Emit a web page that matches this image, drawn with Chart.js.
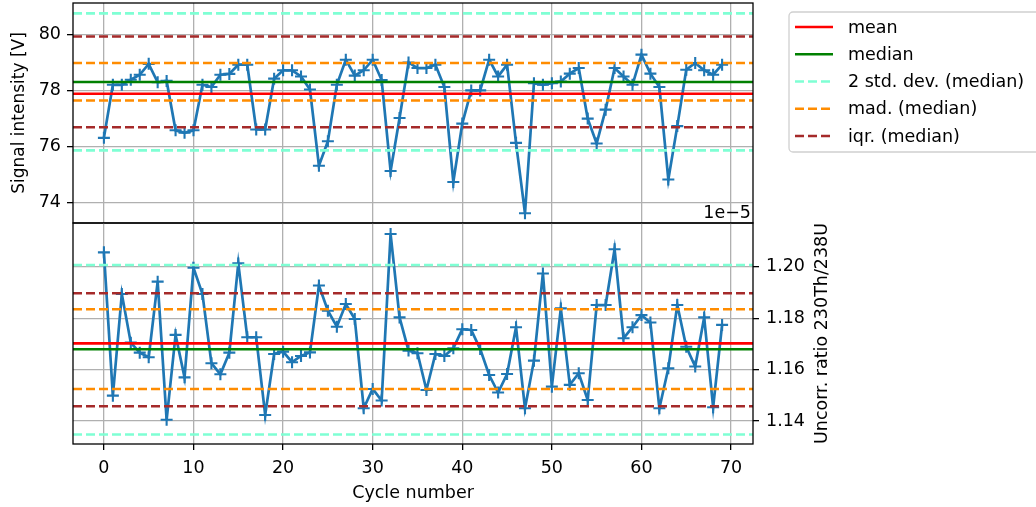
<!DOCTYPE html>
<html>
<head>
<meta charset="utf-8">
<script src="https://cdn.jsdelivr.net/npm/chart.js@4.4.1/dist/chart.umd.min.js"></script>
<style>
  html, body { margin: 0; padding: 0; background: #fff; }
  #wrap { position: relative; width: 1036px; height: 507px; overflow: hidden; }
  canvas { position: absolute; left: 0; }
  #signalChart { top: 0; }
  #ratioChart { top: 222px; }
</style>
</head>
<body>
<div id="wrap">
  <canvas id="signalChart" width="1036" height="224"></canvas>
  <canvas id="ratioChart" width="840" height="285"></canvas>
</div>
<script>
// ---- data ----
const cycles = [0,1,2,3,4,5,6,7,8,9,10,11,12,13,14,15,16,17,18,19,20,21,22,23,24,25,26,27,28,29,
  30,31,32,33,34,35,36,37,38,39,40,41,42,43,44,45,46,47,48,49,50,51,52,53,54,55,56,57,58,59,
  60,61,62,63,64,65,66,67,68,69];

const signal = [76.31,78.21,78.21,78.39,78.57,78.96,78.30,78.35,76.58,76.49,
  76.58,78.21,78.13,78.57,78.60,78.93,78.93,76.61,76.61,78.43,
  78.73,78.73,78.51,78.04,75.31,76.19,78.21,79.11,78.54,78.73,
  79.11,78.38,75.12,77.02,79.01,78.81,78.81,78.93,78.13,74.73,
  76.82,78.01,78.01,79.11,78.51,78.93,76.13,73.61,78.27,78.21,
  78.27,78.33,78.61,78.81,77.00,76.11,77.32,78.81,78.51,78.21,
  79.29,78.61,78.13,74.82,76.73,78.75,78.99,78.73,78.57,78.93];

const ratio = [1.2056,1.1499,1.1894,1.1705,1.1666,1.1648,1.1942,1.1405,1.1735,1.1570,
  1.1996,1.1894,1.1625,1.1582,1.1666,1.2013,1.1726,1.1726,1.1424,1.1661,
  1.1670,1.1629,1.1653,1.1667,1.1927,1.1829,1.1767,1.1855,1.1797,1.1450,
  1.1525,1.1480,1.2127,1.1803,1.1674,1.1664,1.1521,1.1661,1.1653,1.1683,
  1.1757,1.1754,1.1680,1.1579,1.1511,1.1583,1.1765,1.1450,1.1635,1.1974,
  1.1534,1.1838,1.1541,1.1586,1.1482,1.1851,1.1851,1.2068,1.1722,1.1765,
  1.1812,1.1783,1.1450,1.1605,1.1851,1.1689,1.1612,1.1803,1.1454,1.1774];

// summary levels: [low, high] bands around the median
const signalMean = 77.89;
const signalMedian = 78.31;
const signalStd2 = [75.86, 80.77];
const signalMad = [77.65, 78.99];
const signalIqr = [76.69, 79.94];

const ratioMean = 1.1702;
const ratioMedian = 1.1679;
const ratioStd2 = [1.1348, 1.2007];
const ratioMad = [1.1525, 1.1835];
const ratioIqr = [1.1458, 1.1897];

const cycleTicks = [0, 10, 20, 30, 40, 50, 60, 70];
const signalTicks = [74, 76, 78, 80];
const ratioTicks = [1.14, 1.16, 1.18, 1.20];

// ---- styling ----
const FONT = { family: 'DejaVu Sans', size: 17.5 };
const GRID = '#b0b0b0';
const BLUE = '#1f77b4';
const DASH = [9, 4];
const X_MIN = -3.45, X_MAX = 72.45;

Chart.defaults.font.family = FONT.family;
Chart.defaults.font.size = FONT.size;
Chart.defaults.color = '#000';

const fixTicks = values => scale => { scale.ticks = values.map(v => ({ value: v })); };
const noPad = scale => { scale.paddingTop = scale.paddingBottom = scale.paddingLeft = scale.paddingRight = 0; };

function seriesDataset(values) {
  return {
    data: cycles.map((c, i) => ({ x: c, y: values[i] })),
    borderColor: BLUE, backgroundColor: BLUE,
    borderWidth: 2.7, tension: 0,
    pointStyle: 'cross', pointRadius: 6, pointBorderWidth: 2.1,
    pointBorderColor: BLUE, order: 1
  };
}

function levelDatasets(mean, median, std2, mad, iqr) {
  const out = [];
  const add = (label, y, color, dash, inLegend) => out.push({
    label, inLegend,
    data: [{ x: X_MIN, y }, { x: X_MAX, y }],
    borderColor: color, borderWidth: 2.6, borderDash: dash,
    pointRadius: 0, order: 0
  });
  add('mean', mean, '#ff0000', [], true);
  add('median', median, '#008000', [], true);
  add('2 std. dev. (median)', std2[1], '#7fffd4', DASH, true);
  add('2 std. dev. (median)', std2[0], '#7fffd4', DASH, false);
  add('mad. (median)', mad[1], '#ff8c00', DASH, true);
  add('mad. (median)', mad[0], '#ff8c00', DASH, false);
  add('iqr. (median)', iqr[1], '#a52a2a', DASH, true);
  add('iqr. (median)', iqr[0], '#a52a2a', DASH, false);
  return out;
}

// black box around the plotting area
const framePlugin = {
  id: 'frame',
  afterDatasetsDraw(chart) {
    const { ctx, chartArea: a } = chart;
    ctx.save();
    ctx.strokeStyle = '#000';
    ctx.lineWidth = 1.3;
    ctx.strokeRect(a.left, a.top, a.right - a.left, a.bottom - a.top);
    ctx.restore();
  }
};

// legend box to the right of the upper panel
const legendPlugin = {
  id: 'sideLegend',
  afterDraw(chart) {
    const ctx = chart.ctx;
    const items = chart.data.datasets.filter(d => d.inLegend);
    const x0 = 789, y0 = 12, w = 270, h = 140, r = 4;
    ctx.save();
    ctx.beginPath();
    ctx.moveTo(x0 + r, y0);
    ctx.lineTo(x0 + w - r, y0);
    ctx.arcTo(x0 + w, y0, x0 + w, y0 + r, r);
    ctx.lineTo(x0 + w, y0 + h - r);
    ctx.arcTo(x0 + w, y0 + h, x0 + w - r, y0 + h, r);
    ctx.lineTo(x0 + r, y0 + h);
    ctx.arcTo(x0, y0 + h, x0, y0 + h - r, r);
    ctx.lineTo(x0, y0 + r);
    ctx.arcTo(x0, y0, x0 + r, y0, r);
    ctx.closePath();
    ctx.fillStyle = 'rgba(255,255,255,0.8)';
    ctx.fill();
    ctx.strokeStyle = '#d0d0d0';
    ctx.lineWidth = 1.3;
    ctx.stroke();

    ctx.font = `${FONT.size}px ${FONT.family}`;
    ctx.textBaseline = 'middle';
    ctx.textAlign = 'left';
    items.forEach((d, i) => {
      const y = 27 + i * 27.25;
      ctx.beginPath();
      ctx.setLineDash(d.borderDash || []);
      ctx.strokeStyle = d.borderColor;
      ctx.lineWidth = d.borderWidth;
      ctx.moveTo(795, y);
      ctx.lineTo(833, y);
      ctx.stroke();
      ctx.setLineDash([]);
      ctx.fillStyle = '#000';
      ctx.fillText(d.label, 848, y + 1);
    });

    // scale multiplier of the ratio axis
    ctx.textAlign = 'right';
    ctx.textBaseline = 'alphabetic';
    ctx.fillText('1e\u22125', 751, 218);
    ctx.restore();
  }
};

// right-hand axis title, reading bottom to top
const rightTitlePlugin = {
  id: 'rightTitle',
  afterDraw(chart) {
    const { ctx, chartArea: a } = chart;
    ctx.save();
    ctx.translate(822, (a.top + a.bottom) / 2);
    ctx.rotate(-Math.PI / 2);
    ctx.font = `${FONT.size}px ${FONT.family}`;
    ctx.fillStyle = '#000';
    ctx.textAlign = 'center';
    ctx.textBaseline = 'middle';
    ctx.fillText('Uncorr. ratio 230Th/238U', 0, 0);
    ctx.restore();
  }
};

const commonOpts = {
  responsive: false,
  animation: false,
  events: [],
  plugins: { legend: { display: false }, tooltip: { enabled: false } }
};

new Chart(document.getElementById('signalChart'), {
  type: 'line',
  data: { datasets: [seriesDataset(signal), ...levelDatasets(signalMean, signalMedian, signalStd2, signalMad, signalIqr)] },
  options: {
    ...commonOpts,
    layout: { autoPadding: false, padding: { left: 0, top: 3, right: 283, bottom: 1 } },
    scales: {
      x: {
        type: 'linear', min: X_MIN, max: X_MAX,
        afterBuildTicks: fixTicks(cycleTicks),
        ticks: { display: false },
        grid: { color: GRID, lineWidth: 1.3, drawTicks: false },
        border: { display: false },
        afterFit: s => { s.height = 0; noPad(s); }
      },
      y: {
        type: 'linear', position: 'left', min: 73.26, max: 81.14,
        afterBuildTicks: fixTicks(signalTicks),
        ticks: { padding: 6, font: FONT, callback: v => String(v) },
        grid: { color: GRID, lineWidth: 1.3, tickLength: 6, tickColor: '#000', tickWidth: 1.3 },
        border: { display: false },
        title: { display: true, text: 'Signal intensity [V]', font: { family: FONT.family, size: 17 }, padding: { top: 9, bottom: 0 } },
        afterFit: s => { s.width = 73; noPad(s); }
      }
    }
  },
  plugins: [framePlugin, legendPlugin]
});

new Chart(document.getElementById('ratioChart'), {
  type: 'line',
  data: { datasets: [seriesDataset(ratio), ...levelDatasets(ratioMean, ratioMedian, ratioStd2, ratioMad, ratioIqr)] },
  options: {
    ...commonOpts,
    layout: { autoPadding: false, padding: { left: 73, top: 1, right: 0, bottom: 0 } },
    scales: {
      x: {
        type: 'linear', min: X_MIN, max: X_MAX,
        afterBuildTicks: fixTicks(cycleTicks),
        ticks: { padding: 8, font: FONT, maxRotation: 0, callback: v => String(v) },
        grid: { color: GRID, lineWidth: 1.3, tickLength: 6, tickColor: '#000', tickWidth: 1.3 },
        border: { display: false },
        title: { display: true, text: 'Cycle number', font: FONT, padding: { top: 0, bottom: 3 } },
        afterFit: s => { s.height = 63; noPad(s); }
      },
      y: {
        type: 'linear', position: 'right', min: 1.1311, max: 1.2170,
        afterBuildTicks: fixTicks(ratioTicks),
        ticks: { padding: 7, font: FONT, callback: v => v.toFixed(2) },
        grid: { color: GRID, lineWidth: 1.3, tickLength: 6, tickColor: '#000', tickWidth: 1.3 },
        border: { display: false },
        afterFit: s => { s.width = 87; noPad(s); }
      }
    }
  },
  plugins: [framePlugin, rightTitlePlugin]
});
</script>
</body>
</html>
